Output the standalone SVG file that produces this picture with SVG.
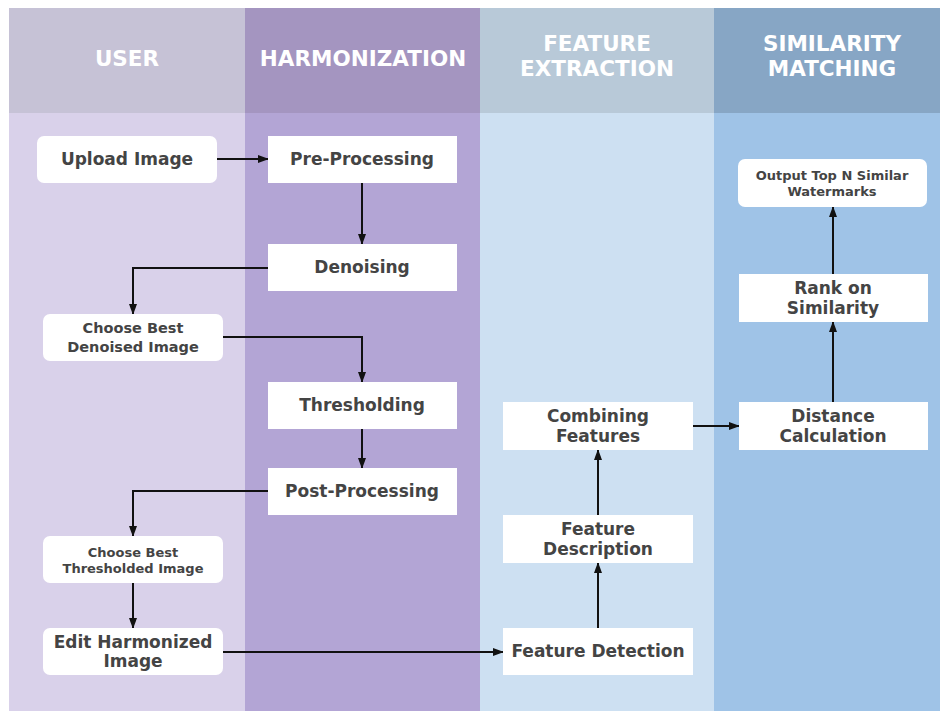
<svg xmlns="http://www.w3.org/2000/svg" width="940" height="711" viewBox="0 0 940 711">
<defs>
<marker id="ah" markerWidth="11" markerHeight="11" refX="10" refY="5.5" orient="auto" markerUnits="userSpaceOnUse">
<path d="M0,1.5 L11,5.5 L0,9.5 Z" fill="#111"/>
</marker>
<style>
.hd{font-family:"DejaVu Sans",Verdana,sans-serif;font-weight:bold;font-size:21.5px;fill:#ffffff;text-anchor:middle}
.t{font-family:"DejaVu Sans",Verdana,sans-serif;font-weight:bold;font-size:17px;fill:#444444;text-anchor:middle}
.s{font-size:14.5px}
.xs{font-size:13px}
.box{fill:#ffffff}
.cn{fill:none;stroke:#111;stroke-width:2;marker-end:url(#ah)}
</style>
</defs>
<rect x="0" y="0" width="940" height="711" fill="#ffffff"/>
<g id="lanes">
<rect x="9" y="8" width="236" height="105" fill="#c6c2d6"/>
<rect x="9" y="113" width="236" height="598" fill="#d9d1ea"/>
<rect x="245" y="8" width="235" height="105" fill="#a495c0"/>
<rect x="245" y="113" width="235" height="598" fill="#b3a5d5"/>
<rect x="480" y="8" width="234" height="105" fill="#b8c9d8"/>
<rect x="480" y="113" width="234" height="598" fill="#cde0f2"/>
<rect x="714" y="8" width="226" height="105" fill="#87a6c5"/>
<rect x="714" y="113" width="226" height="598" fill="#9fc3e7"/>
<text class="hd" x="127" y="66">USER</text>
<text class="hd" x="363" y="66">HARMONIZATION</text>
<text class="hd" x="597" y="51">FEATURE</text>
<text class="hd" x="597" y="76">EXTRACTION</text>
<text class="hd" x="832" y="51">SIMILARITY</text>
<text class="hd" x="832" y="76">MATCHING</text>
</g>
<g id="connectors">
<path class="cn" d="M217,159 L268,159"/>
<path class="cn" d="M362,183 L362,244"/>
<path class="cn" d="M268,268 L133,268 L133,314"/>
<path class="cn" d="M223,337 L362,337 L362,382"/>
<path class="cn" d="M362,429 L362,468"/>
<path class="cn" d="M268,491 L133,491 L133,536"/>
<path class="cn" d="M133,583 L133,628"/>
<path class="cn" d="M223,652 L503,652"/>
<path class="cn" d="M598,628 L598,563"/>
<path class="cn" d="M598,515 L598,450"/>
<path class="cn" d="M693,426 L739,426"/>
<path class="cn" d="M833,402 L833,322"/>
<path class="cn" d="M833,274 L833,207"/>
</g>
<g id="n-upload"><rect class="box" x="37" y="136" width="180" height="47" rx="7"/><text class="t" x="127" y="165">Upload Image</text></g>
<g id="n-pre"><rect class="box" x="268" y="136" width="189" height="47"/><text class="t" x="362" y="165">Pre-Processing</text></g>
<g id="n-denoise"><rect class="box" x="268" y="244" width="189" height="47"/><text class="t" x="362" y="273">Denoising</text></g>
<g id="n-bestden"><rect class="box" x="43" y="314" width="180" height="47" rx="7"/><text class="t s" x="133" y="333">Choose Best</text><text class="t s" x="133" y="352">Denoised Image</text></g>
<g id="n-thresh"><rect class="box" x="268" y="382" width="189" height="47"/><text class="t" x="362" y="411">Thresholding</text></g>
<g id="n-post"><rect class="box" x="268" y="468" width="189" height="47"/><text class="t" x="362" y="497">Post-Processing</text></g>
<g id="n-bestthr"><rect class="box" x="43" y="536" width="180" height="47" rx="7"/><text class="t xs" x="133" y="557">Choose Best</text><text class="t xs" x="133" y="573">Thresholded Image</text></g>
<g id="n-edit"><rect class="box" x="43" y="628" width="180" height="47" rx="7"/><text class="t" x="133" y="648">Edit Harmonized</text><text class="t" x="133" y="667">Image</text></g>
<g id="n-detect"><rect class="box" x="503" y="628" width="190" height="47"/><text class="t" x="598" y="657">Feature Detection</text></g>
<g id="n-desc"><rect class="box" x="503" y="515" width="190" height="48"/><text class="t" x="598" y="535">Feature</text><text class="t" x="598" y="555">Description</text></g>
<g id="n-comb"><rect class="box" x="503" y="402" width="190" height="48"/><text class="t" x="598" y="422">Combining</text><text class="t" x="598" y="442">Features</text></g>
<g id="n-dist"><rect class="box" x="739" y="402" width="189" height="48"/><text class="t" x="833" y="422">Distance</text><text class="t" x="833" y="442">Calculation</text></g>
<g id="n-rank"><rect class="box" x="739" y="274" width="189" height="48"/><text class="t" x="833" y="294">Rank on</text><text class="t" x="833" y="314">Similarity</text></g>
<g id="n-output"><rect class="box" x="738" y="159" width="189" height="48" rx="7"/><text class="t xs" x="832" y="180">Output Top N Similar</text><text class="t xs" x="832" y="196">Watermarks</text></g>
</svg>
